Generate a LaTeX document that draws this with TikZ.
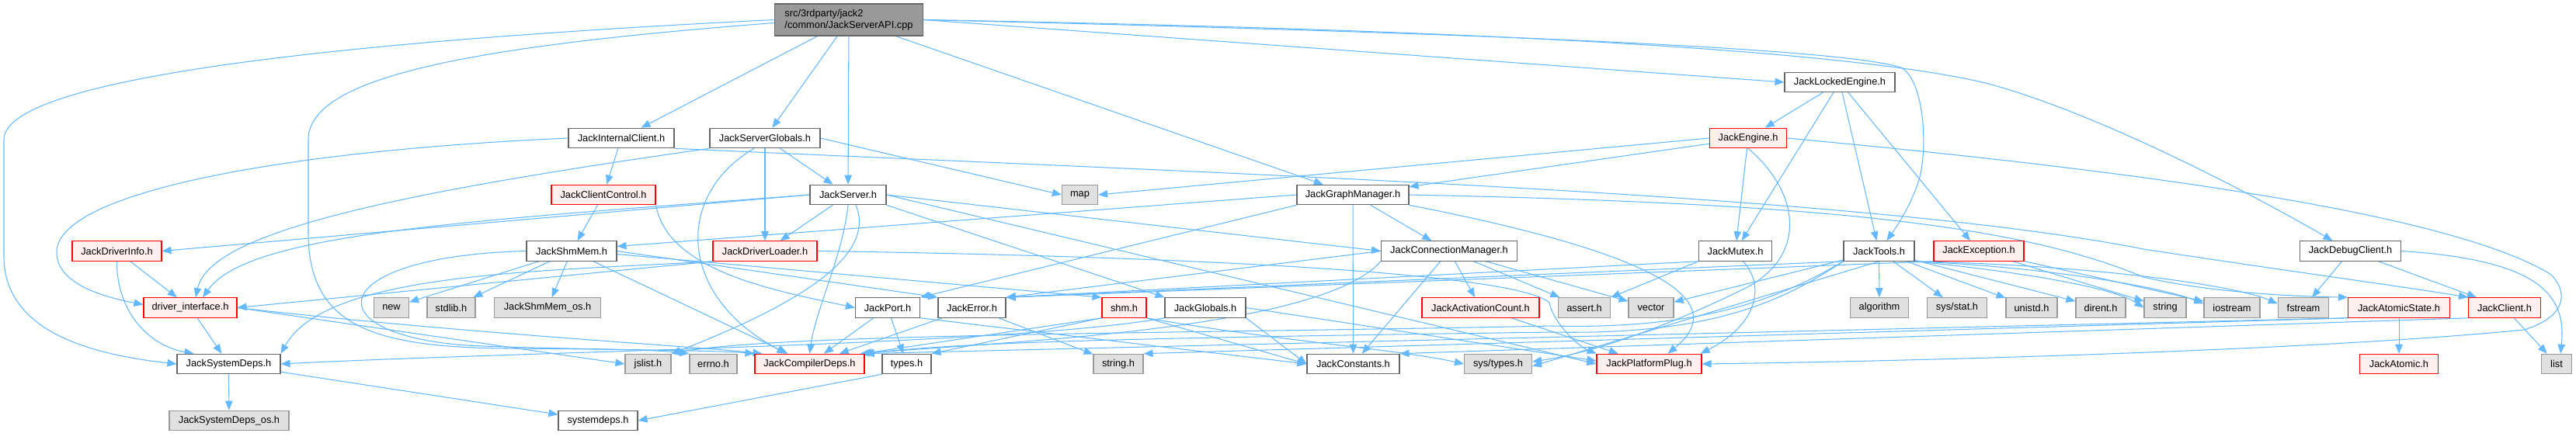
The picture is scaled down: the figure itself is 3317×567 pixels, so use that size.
\documentclass[tikz,border=0pt]{standalone}
\usepackage{fontspec}
\setmainfont{Liberation Sans}
\usetikzlibrary{arrows.meta}
\definecolor{edgec}{HTML}{63B8FF}
\definecolor{nborder}{HTML}{666666}
\definecolor{gborder}{HTML}{999999}
\definecolor{gfill}{HTML}{E0E0E0}
\definecolor{rfill}{HTML}{FFF0F0}
\definecolor{rootfill}{HTML}{999999}
\definecolor{redb}{HTML}{FF0000}
\pgfdeclarelayer{bg}
\pgfsetlayers{bg,main}
\tikzset{
 base/.style={rectangle, minimum height=25.5pt, inner sep=0pt, line width=1.1pt, font=\fontsize{12.8}{15}\selectfont, text=black},
 wbox/.style={base, draw=nborder, fill=white},
 rbox/.style={base, draw=redb, fill=rfill},
 gbox/.style={base, draw=gborder, fill=gfill},
 dep/.style={draw=edgec, line width=1.05pt, -{Triangle[length=12pt,width=9.5pt]}},
}
\begin{document}
\begin{tikzpicture}[x=1pt,y=-1pt]
\useasboundingbox (0,0) rectangle (3317,567);
% ---------- nodes ----------
\node[base, draw=nborder, fill=rootfill, minimum width=191.5pt, minimum height=41pt, align=left] (root) at (1093,25.5) {src/3rdparty/jack2\\/common/JackServerAPI.cpp};
\node[wbox, minimum width=142pt] (lockedengine) at (2369,106) {JackLockedEngine.h};
\node[wbox, minimum width=136pt] (internalclient) at (800,178) {JackInternalClient.h};
\node[wbox, minimum width=142pt] (serverglobals) at (985,178) {JackServerGlobals.h};
\node[rbox, minimum width=99pt] (engine) at (2251,178) {JackEngine.h};
\node[rbox, minimum width=134pt] (clientcontrol) at (777,251) {JackClientControl.h};
\node[wbox, minimum width=98pt] (server) at (1092,251) {JackServer.h};
\node[gbox, minimum width=46pt] (map) at (1390.5,251) {map};
\node[wbox, minimum width=144pt] (graphmanager) at (1742,251) {JackGraphManager.h};
\node[rbox, minimum width=115pt] (driverinfo) at (150.5,323.5) {JackDriverInfo.h};
\node[wbox, minimum width=116pt] (shmmem) at (736,323.5) {JackShmMem.h};
\node[rbox, minimum width=134pt] (driverloader) at (985,323.5) {JackDriverLoader.h};
\node[wbox, minimum width=175pt] (connmgr) at (1866,323.5) {JackConnectionManager.h};
\node[wbox, minimum width=94pt] (mutex) at (2234.5,323.5) {JackMutex.h};
\node[wbox, minimum width=91pt] (tools) at (2419.5,323.5) {JackTools.h};
\node[rbox, minimum width=116pt] (exception) at (2548,323.5) {JackException.h};
\node[wbox, minimum width=130pt] (debugclient) at (3026.5,323.5) {JackDebugClient.h};
\node[rbox, minimum width=120pt] (driveriface) at (245,396.5) {driver\_interface.h};
\node[gbox, minimum width=45pt] (new) at (504,396.5) {new};
\node[gbox, minimum width=62pt] (stdlib) at (581,396.5) {stdlib.h};
\node[gbox, minimum width=137pt] (shmmemos) at (705,396.5) {JackShmMem\_os.h};
\node[wbox, minimum width=83pt] (port) at (1143,396.5) {JackPort.h};
\node[wbox, minimum width=87pt] (error) at (1251.5,396.5) {JackError.h};
\node[rbox, minimum width=57pt] (shm) at (1447.5,396.5) {shm.h};
\node[wbox, minimum width=104pt] (globals) at (1552,396.5) {JackGlobals.h};
\node[rbox, minimum width=151pt] (actcount) at (1906.5,396.5) {JackActivationCount.h};
\node[gbox, minimum width=67.5pt] (assert) at (2040,396.5) {assert.h};
\node[gbox, minimum width=58pt] (vector) at (2126,396.5) {vector};
\node[gbox, minimum width=75pt] (algorithm) at (2420,396.5) {algorithm};
\node[gbox, minimum width=77.5pt] (sysstat) at (2520,396.5) {sys/stat.h};
\node[gbox, minimum width=66pt] (unistd) at (2616,396.5) {unistd.h};
\node[gbox, minimum width=64pt] (dirent) at (2705,396.5) {dirent.h};
\node[gbox, minimum width=54pt] (string) at (2788,396.5) {string};
\node[gbox, minimum width=72pt] (iostream) at (2874,396.5) {iostream};
\node[gbox, minimum width=65.5pt] (fstream) at (2966,396.5) {fstream};
\node[rbox, minimum width=131pt] (atomicstate) at (3089,396.5) {JackAtomicState.h};
\node[rbox, minimum width=93pt] (client) at (3225,396.5) {JackClient.h};
\node[wbox, minimum width=133pt] (systemdepsh) at (294.5,469) {JackSystemDeps.h};
\node[gbox, minimum width=59pt] (jslist) at (834.5,469) {jslist.h};
\node[gbox, minimum width=61pt] (errno) at (918.5,469) {errno.h};
\node[rbox, minimum width=141pt] (compdeps) at (1042.5,469) {JackCompilerDeps.h};
\node[wbox, minimum width=63pt] (types) at (1167.5,469) {types.h};
\node[gbox, minimum width=64pt] (stringh) at (1440,469) {string.h};
\node[wbox, minimum width=119pt] (constants) at (1742.5,469) {JackConstants.h};
\node[gbox, minimum width=87pt] (systypes) at (1929,469) {sys/types.h};
\node[rbox, minimum width=135pt] (platplug) at (2123.5,469) {JackPlatformPlug.h};
\node[rbox, minimum width=101pt] (atomic) at (3089,469) {JackAtomic.h};
\node[gbox, minimum width=39pt] (list) at (3292,469) {list};
\node[gbox, minimum width=154pt] (sysdepsos) at (295,542) {JackSystemDeps\_os.h};
\node[wbox, minimum width=102pt] (systemdeps) at (770,542) {systemdeps.h};
% ---------- edges ----------
\begin{pgfonlayer}{bg}
\fill[white] (0,0) rectangle (3317,567);
% root
\draw[dep] (root.west) .. controls (500,50) and (5,95) .. (5,180) -- (5,330) .. controls (5,420) and (100,455) .. (systemdepsh.west);
\draw[dep] ([yshift=-4pt]root.west) .. controls (600,60) and (397,100) .. (397,180) -- (397,300) .. controls (397,420) and (480,447) .. (650,449) .. controls (800,450) and (930,452) .. (compdeps.north west);
\draw[dep] (root) -- (internalclient);
\draw[dep] (root) -- (serverglobals);
\draw[dep] (root) -- (server);
\draw[dep] (root) -- (graphmanager);
\draw[dep] (root.east) -- (lockedengine.west);
\draw[dep] (root.east) .. controls (1800,40) and (2380,60) .. (2450,88) .. controls (2480,110) and (2482,200) .. (2470,235) .. controls (2458,270) and (2440,295) .. ([xshift=10pt]tools.north);
\draw[dep] (root.east) .. controls (2000,40) and (2400,70) .. (2557,107) .. controls (2700,145) and (2900,250) .. ([xshift=-23pt]debugclient.north);
% JackLockedEngine
\draw[dep] (lockedengine) -- (engine);
\draw[dep] (lockedengine) -- (mutex);
\draw[dep] (lockedengine) -- (tools);
\draw[dep] (lockedengine) -- (exception);
% JackInternalClient
\draw[dep] (internalclient) -- (clientcontrol);
\draw[dep] (internalclient.west) .. controls (350,195) and (73,250) .. (73,325) .. controls (73,365) and (130,382) .. ([yshift=4pt]driveriface.west);
\draw[dep] (internalclient.south east) .. controls (1600,225) and (2400,250) .. (2760,321) .. controls (2950,350) and (3100,370) .. (client.north west);
% JackServerGlobals
\draw[dep] (serverglobals) -- (server);
\draw[dep] (serverglobals) -- (driverloader);
\draw[dep] ([xshift=-14pt]serverglobals.south) .. controls (870,250) and (870,380) .. ([xshift=-30pt]compdeps.north);
\draw[dep] (serverglobals.south west) .. controls (500,250) and (270,300) .. ([xshift=7pt]driveriface.north);
\draw[dep] (serverglobals.east) -- (map.west);
% JackEngine
\draw[dep] (engine) -- (graphmanager);
\draw[dep] (engine) -- (mutex);
\draw[dep] (engine.west) -- (map.east);
\draw[dep] (engine.east) .. controls (2700,215) and (3150,270) .. (3285,354) .. controls (3310,380) and (3300,410) .. (3250,425) .. controls (3000,450) and (2500,465) .. (platplug.east);
\draw[dep] (engine.south) .. controls (2320,250) and (2325,330) .. (2250,370) .. controls (2150,420) and (2050,455) .. ([yshift=3pt]systypes.east);
% JackClientControl
\draw[dep] (clientcontrol) -- (shmmem);
\draw[dep] (clientcontrol.south east) .. controls (860,350) and (1000,375) .. (port.west);
% JackServer
\draw[dep] (server) -- (driverloader);
\draw[dep] (server.west) .. controls (600,285) and (320,300) .. ([xshift=16pt]driveriface.north);
\draw[dep] (server.west) -- (driverinfo.east);
\draw[dep] (server.south) .. controls (1085,330) and (1050,400) .. (compdeps.north);
\draw[dep] ([xshift=10pt]server.south) .. controls (1125,320) and (1060,380) .. (jslist.north east);
\draw[dep] (server.east) -- (connmgr.west);
\draw[dep] (server.south east) -- (globals.north west);
\draw[dep] (server.east) -- (platplug.west);
% JackGraphManager
\draw[dep] (graphmanager.west) -- ([yshift=6pt]shmmem.east);
\draw[dep] (graphmanager.south west) -- (port.north east);
\draw[dep] (graphmanager) -- (constants);
\draw[dep] (graphmanager) -- (connmgr);
\draw[dep] (graphmanager.east) .. controls (2350,262) and (2600,290) .. (2760,357) .. controls (2850,378) and (2960,382) .. (atomicstate.north west);
\draw[dep] (graphmanager.south east) .. controls (2100,320) and (2240,380) .. ([xshift=24pt]platplug.north);
% JackDriverInfo
\draw[dep] (driverinfo) -- (driveriface);
\draw[dep] (driverinfo.south) .. controls (150,400) and (190,445) .. ([xshift=-45pt]systemdepsh.north);
% JackShmMem
\draw[dep] (shmmem) -- (new);
\draw[dep] (shmmem) -- (stdlib);
\draw[dep] (shmmem) -- (shmmemos);
\draw[dep] (shmmem) -- (compdeps);
\draw[dep] ([yshift=-4pt]shmmem.east) -- (shm.north west);
\draw[dep] (shmmem.east) -- (error.north west);
\draw[dep] (shmmem.west) .. controls (420,330) and (400,430) .. (600,445) .. controls (700,450) and (830,449) .. (errno.north west);
% JackDriverLoader
\draw[dep] (driverloader.south west) -- (driveriface.east);
\draw[dep] (driverloader.south west) .. controls (700,350) and (420,350) .. (systemdepsh.north east);
\draw[dep] (driverloader.east) .. controls (1500,330) and (1950,350) .. (1995,390) .. controls (2000,415) and (2030,445) .. (platplug.north west);
% JackConnectionManager
\draw[dep] (connmgr) -- (constants);
\draw[dep] (connmgr) -- (actcount);
\draw[dep] (connmgr) -- (assert);
\draw[dep] (connmgr) -- (vector);
\draw[dep] (connmgr.west) -- (error.north east);
\draw[dep] (connmgr.south west) .. controls (1700,425) and (1300,440) .. ([xshift=-6pt]compdeps.north east);
% JackMutex
\draw[dep] (mutex.south west) -- (assert.north east);
\draw[dep] ([xshift=10pt]mutex.south) .. controls (2275,370) and (2260,420) .. ([xshift=-2pt]platplug.north east);
\draw[dep] (mutex.south west) -- (error.north east);
% JackTools
\draw[dep] (tools) -- (algorithm);
\draw[dep] (tools) -- (sysstat);
\draw[dep] (tools) -- (unistd);
\draw[dep] (tools) -- (dirent);
\draw[dep] (tools.south east) .. controls (2600,350) and (2720,370) .. (string.west);
\draw[dep] (tools.south east) .. controls (2650,345) and (2790,372) .. ([yshift=5pt]iostream.west);
\draw[dep] (tools.south east) .. controls (2700,342) and (2880,368) .. ([yshift=5pt]fstream.west);
\draw[dep] (tools) -- (vector);
\draw[dep] (tools.south west) .. controls (2300,380) and (2200,425) .. (2000,420) .. controls (1500,430) and (1000,430) .. (jslist.north east);
\draw[dep] (tools.south west) .. controls (2300,385) and (2210,432) .. (2000,428) .. controls (1500,435) and (1250,440) .. (compdeps.north east);
\draw[dep] (tools.south west) -- (error.north east);
\draw[dep] (tools.south) -- ([yshift=-3pt]systypes.east);
% JackException
\draw[dep] (exception) -- (string);
\draw[dep] (exception) -- (iostream);
\draw[dep] (exception.south west) -- (error.north east);
% JackDebugClient
\draw[dep] (debugclient) -- (fstream);
\draw[dep] (debugclient) -- (client);
\draw[dep] (debugclient.east) .. controls (3270,335) and (3305,380) .. ([xshift=5pt]list.north);
% driver_interface
\draw[dep] (driveriface) -- (systemdepsh);
\draw[dep] (driveriface.east) -- (jslist.west);
\draw[dep] (driveriface.east) .. controls (600,430) and (880,445) .. ([xshift=10pt]compdeps.north west);
% JackPort
\draw[dep] (port) -- (types);
\draw[dep] (port) -- (compdeps);
\draw[dep] (port.south east) -- (constants.west);
% JackError
\draw[dep] (error) -- (stringh);
\draw[dep] (error) -- (compdeps);
% shm.h
\draw[dep] (shm.south west) -- (types.north east);
\draw[dep] (shm.south west) -- ([xshift=-3pt]compdeps.north east);
\draw[dep] (shm.south east) -- (constants.west);
\draw[dep] (shm.south east) .. controls (1650,440) and (1800,450) .. (systypes.west);
% JackGlobals
\draw[dep] (globals.east) -- ([yshift=4pt]platplug.west);
\draw[dep] (globals.south east) -- (constants.west);
\draw[dep] (globals.south west) .. controls (1300,445) and (700,452) .. (systemdepsh.east);
% JackActivationCount
\draw[dep] (actcount) -- (platplug);
% JackAtomicState
\draw[dep] (atomicstate) -- (atomic);
\draw[dep] (atomicstate.south west) -- (compdeps.north east);
\draw[dep] (atomicstate.south west) -- (stringh.north east);
% JackClient
\draw[dep] (client) -- (list);
\draw[dep] (client.south west) -- (constants.north east);
% JackSystemDeps, types.h
\draw[dep] (systemdepsh) -- (sysdepsos);
\draw[dep] (systemdepsh) -- (systemdeps);
\draw[dep] (types.south west) -- (systemdeps.east);
\end{pgfonlayer}
\end{tikzpicture}
\end{document}
